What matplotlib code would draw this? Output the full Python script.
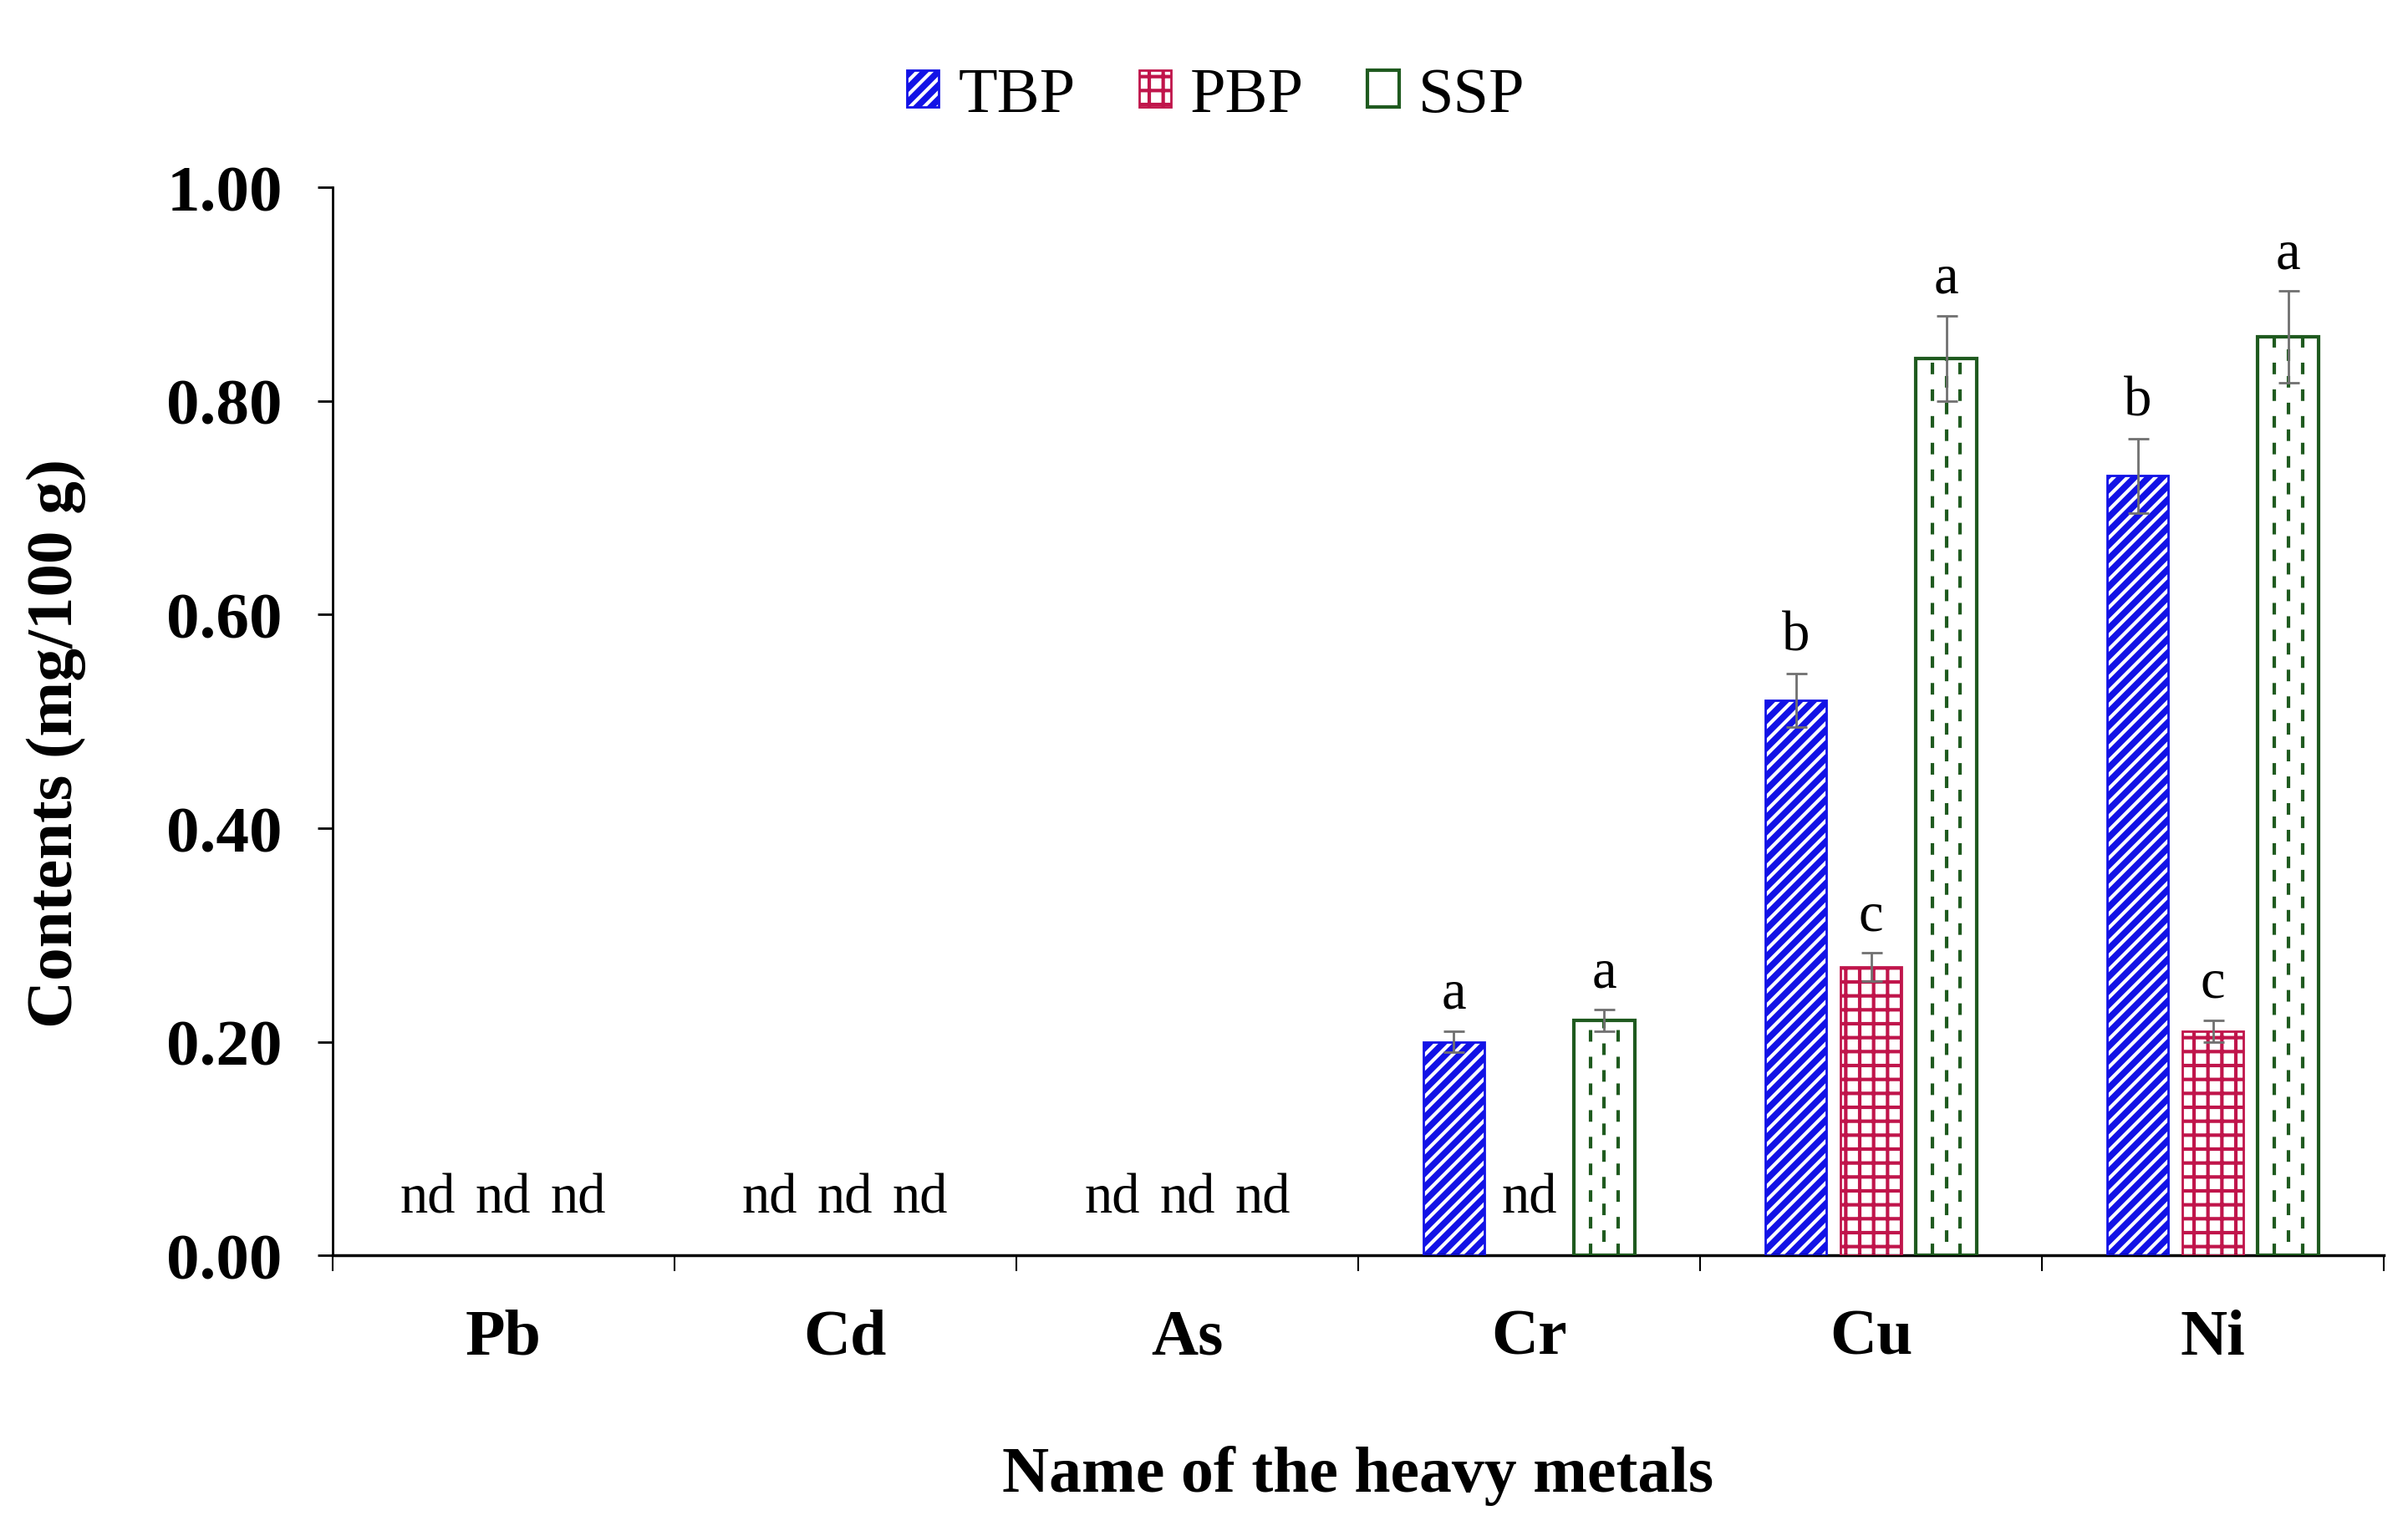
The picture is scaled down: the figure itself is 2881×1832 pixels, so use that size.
import matplotlib
matplotlib.use("Agg")
import matplotlib.pyplot as plt
import numpy as np
from matplotlib.patches import Patch
from matplotlib.ticker import FormatStrFormatter

plt.rcParams["font.family"] = ["Liberation Serif", "DejaVu Serif"]
plt.rcParams["hatch.linewidth"] = 3.0
plt.rcParams["lines.scale_dashes"] = False

# data
metals = ["Pb", "Cd", "As", "Cr", "Cu", "Ni"]
series = ["TBP", "PBP", "SSP"]
tbp = [0, 0, 0, 0.20, 0.52, 0.73]
pbp = [0, 0, 0, 0, 0.27, 0.21]
ssp = [0, 0, 0, 0.22, 0.84, 0.86]
tbp_err = [0, 0, 0, 0.010, 0.025, 0.035]
pbp_err = [0, 0, 0, 0, 0.013, 0.010]
ssp_err = [0, 0, 0, 0.010, 0.040, 0.043]
tbp_sig = ["nd", "nd", "nd", "a", "b", "b"]
pbp_sig = ["nd", "nd", "nd", "nd", "c", "c"]
ssp_sig = ["nd", "nd", "nd", "a", "a", "a"]

BLUE = "#1212E6"
RED = "#C0154B"
GREEN = "#1F5A1F"
ERR = "#707070"

x = np.arange(len(metals))
width = 0.18
shift = 0.22

fig, ax = plt.subplots(figsize=(28.81, 18.33), dpi=100)
fig.subplots_adjust(left=0.138, right=0.99, bottom=0.18, top=0.877)

values = [np.array(tbp), np.array(pbp), np.array(ssp)]
errors = [np.array(tbp_err), np.array(pbp_err), np.array(ssp_err)]
sigs = [tbp_sig, pbp_sig, ssp_sig]
positions = [x - shift, x, x + shift]

# TBP: blue with white diagonal stripes
m = values[0] > 0
ax.bar(positions[0][m], values[0][m], width, color=BLUE, edgecolor="white",
       hatch="//", linewidth=0, zorder=2)
ax.bar(positions[0][m], values[0][m], width, fill=False, edgecolor=BLUE,
       linewidth=2, zorder=3)

# PBP: crimson grid
m = values[1] > 0
ax.bar(positions[1][m], values[1][m], width, color="white", edgecolor=RED,
       hatch="+", linewidth=0, zorder=2)
ax.bar(positions[1][m], values[1][m], width, fill=False, edgecolor=RED,
       linewidth=2, zorder=3)

# SSP: white with dashed vertical lines
m = values[2] > 0
ax.bar(positions[2][m], values[2][m], width, color="white", edgecolor=GREEN,
       linewidth=3, zorder=3)
for frac, off in [(-0.23, 0), (0.0, 11.5), (0.23, 0)]:
    ax.vlines(positions[2][m] + frac * width, 0, values[2][m], colors=GREEN,
              linewidth=3, linestyles=[(off, (10, 13))], zorder=3)

# error bars and letters
for pos, val, err, sig in zip(positions, values, errors, sigs):
    m = val > 0
    ax.errorbar(pos[m], val[m], yerr=err[m], fmt="none", ecolor=ERR,
                elinewidth=2, capsize=9, capthick=2, zorder=5)
    for xi, v, e, s in zip(pos, val, err, sig):
        y = 0.04 if s == "nd" else v + e + 0.022
        ax.text(xi, y, s, ha="center", va="baseline", fontsize=48, zorder=6)

ax.set_xlim(-0.5, len(metals) - 0.5)
ax.set_ylim(0, 1.0)

ax.set_xticks(np.arange(-0.5, len(metals), 1))
ax.set_xticklabels([])
ax.tick_params(axis="x", which="major", length=14, width=1.5, direction="out")
ax.set_xticks(x, minor=True)
ax.set_xticklabels(metals, minor=True, fontsize=56, fontweight="bold")
ax.tick_params(axis="x", which="minor", length=0, pad=46)

ax.set_yticks(np.arange(0, 1.01, 0.2))
ax.yaxis.set_major_formatter(FormatStrFormatter("%.2f"))
ax.tick_params(axis="y", length=13, width=2, pad=30, labelsize=57)
for lbl in ax.get_yticklabels():
    lbl.set_fontweight("bold")

for side in ["top", "right"]:
    ax.spines[side].set_visible(False)
ax.spines["left"].set_linewidth(2)
ax.spines["bottom"].set_linewidth(2.5)

ax.set_ylabel("Contents (mg/100 g)", fontsize=57, fontweight="bold")
ax.yaxis.set_label_coords(-0.12, 0.48)
ax.set_xlabel("Name of the heavy metals", fontsize=56, fontweight="bold")
ax.xaxis.set_label_coords(0.5, -0.178)

handles = [
    (Patch(facecolor=BLUE, edgecolor="white", hatch="//", linewidth=0),
     Patch(fill=False, edgecolor=BLUE, linewidth=2)),
    (Patch(facecolor="white", edgecolor=RED, hatch="+", linewidth=0),
     Patch(fill=False, edgecolor=RED, linewidth=2)),
    Patch(facecolor="white", edgecolor=GREEN, linewidth=3),
]
fig.legend(handles, series, loc="center", bbox_to_anchor=(0.505, 0.937),
           ncol=3, frameon=False, fontsize=55, handlelength=0.5,
           handleheight=0.5, handletextpad=0.3, columnspacing=1.0)

fig.savefig("out.png", dpi=100)
